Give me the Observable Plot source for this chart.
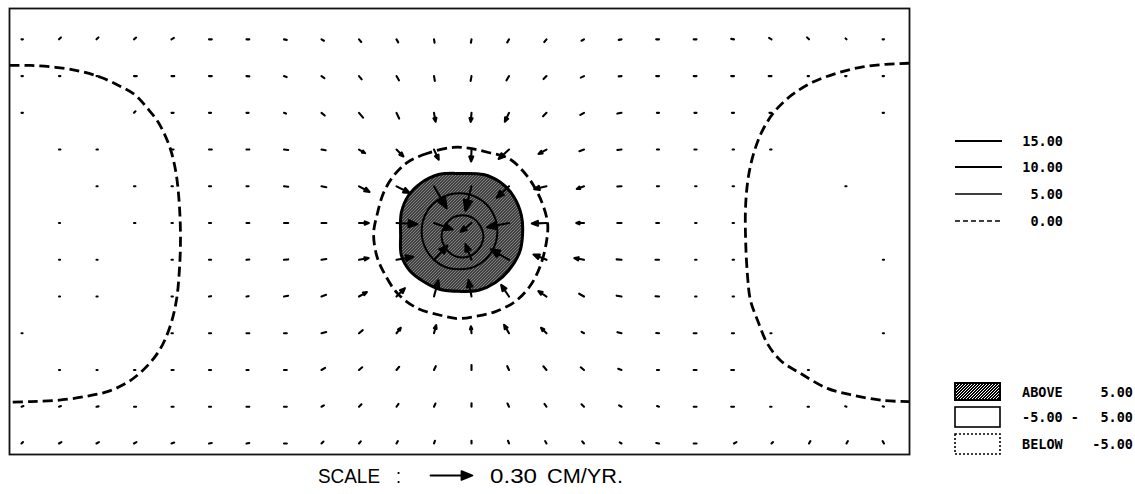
<!DOCTYPE html>
<html><head><meta charset="utf-8">
<script src="https://cdn.jsdelivr.net/npm/d3@7"></script>
<script src="https://cdn.jsdelivr.net/npm/@observablehq/plot@0.6"></script>
<style>
body{margin:0;background:#fff;}
#wrap{position:relative;width:1135px;height:494px;overflow:hidden;background:#fff;}
#chart{position:absolute;left:0;top:0;}
#scaleArrow{position:absolute;left:428px;top:466px;}
#overlay{position:absolute;left:0;top:0;pointer-events:none;}
.lg{font-family:"DejaVu Sans Mono",monospace;font-weight:bold;font-size:13.5px;fill:#000;}
.cap{font-family:"Liberation Sans",Arial,sans-serif;font-size:20px;fill:#000;}
</style></head><body>
<div id="wrap"><div id="chart"></div><div id="scaleArrow"></div></div>
<script>
// ---- grid (column / row indices of the velocity grid) ----
const gridX = [0,1,2,3,4,5,6,7,8,9,10,11,12,13,14,15,16,17,18,19,20,21,22,23];
const gridY = [0,1,2,3,4,5,6,7,8,9,10,11];

// ---- horizontal velocity, cm/yr, one row per grid row ----
const speedCmYr = [
  [0.01,0.02,0.02,0.02,0.02,0.02,0.02,0.02,0.02,0.025,0.025,0.025,0.025,0.025,0.025,0.02,0.02,0.02,0.02,0.02,0.02,0.02,0.01,0.01],
  [0.01,0.01,0.01,0.02,0.02,0.02,0.02,0.02,0.025,0.03,0.035,0.035,0.035,0.035,0.03,0.025,0.02,0.02,0.02,0.02,0.02,0.01,0.01,0.01],
  [0.01,0,0,0.015,0.015,0.015,0.015,0.015,0.03,0.045,0.045,0.065,0.065,0.07,0.035,0.03,0.03,0.015,0.015,0.015,0.015,0,0,0.01],
  [0,0.01,0.01,0,0.015,0.02,0.02,0.03,0.03,0.05,0.07,0.08,0.085,0.10,0.065,0.035,0.03,0.015,0.015,0.01,0.01,0,0,0],
  [0,0,0.008,0.01,0.01,0.015,0.015,0.03,0.035,0.085,0.105,0.18,0.18,0.12,0.09,0.055,0.03,0.015,0.01,0.01,0,0,0.008,0],
  [0,0.008,0,0.01,0.01,0.015,0.02,0.03,0.035,0.07,0.15,0.14,0.10,0.16,0.105,0.055,0.03,0.02,0.01,0.01,0,0,0,0],
  [0,0.008,0.008,0,0.01,0.015,0.02,0.03,0.035,0.07,0.12,0.14,0.12,0.15,0.10,0.07,0.035,0.025,0.01,0.01,0,0,0,0.008],
  [0,0.008,0.008,0,0.01,0.015,0.015,0.03,0.035,0.065,0.085,0.12,0.12,0.10,0.07,0.04,0.035,0.025,0.01,0.01,0,0,0,0],
  [0.008,0,0,0,0.01,0.015,0.02,0.02,0.035,0.035,0.05,0.06,0.05,0.07,0.055,0.02,0.03,0.02,0.02,0.015,0.008,0,0,0.008],
  [0,0.008,0.008,0.01,0.015,0.015,0.015,0.02,0.03,0.03,0.03,0.03,0.035,0.03,0.035,0.03,0.025,0.015,0.02,0.02,0,0.008,0,0],
  [0.015,0.015,0.015,0.015,0.015,0.015,0.02,0.02,0.02,0.025,0.025,0.025,0.025,0.025,0.025,0.025,0.02,0.015,0.02,0.02,0.01,0.01,0.01,0.01],
  [0.015,0.02,0.02,0.02,0.02,0.02,0.02,0.02,0.02,0.02,0.02,0.02,0.02,0.02,0.02,0.02,0.015,0.02,0.02,0.02,0.015,0.02,0.02,0.02]
];
// ---- direction of the velocity, degrees clockwise from up ----
const directionDeg = [
  [90,45,45,50,60,90,90,100,120,140,150,170,190,210,220,240,260,270,270,280,300,315,315,270],
  [90,90,90,90,90,90,95,110,125,140,150,170,190,210,225,245,265,270,270,270,270,270,270,270],
  [90,0,0,45,90,90,90,110,130,140,155,170,185,205,225,240,260,270,270,270,270,0,0,270],
  [90,90,90,90,90,90,90,95,100,120,135,155,182,228,241,250,265,270,270,270,270,0,0,0],
  [90,90,90,90,90,90,90,95,100,118,117,150,194,227,257,250,268,270,270,270,270,270,270,0],
  [90,90,90,90,90,90,90,90,90,90,93,109,231,259,268,270,270,270,270,270,270,270,270,0],
  [90,90,90,90,90,90,85,85,80,80,80,43,339,300,292,280,275,270,270,270,270,270,270,270],
  [90,90,90,90,90,80,80,80,70,60,45,15,350,326,304,300,280,275,270,270,270,270,270,270],
  [90,90,90,90,90,90,90,90,75,50,38,15,355,330,315,300,285,275,270,270,270,0,0,270],
  [90,90,90,90,90,90,90,90,60,50,40,25,0,335,320,310,290,270,270,270,0,270,0,0],
  [70,70,80,90,90,90,90,90,60,45,35,25,0,335,325,315,300,290,270,270,270,270,290,290],
  [45,60,60,60,70,80,80,90,45,40,30,20,0,340,330,320,300,280,270,60,45,30,30,330]
];

// ---- contour lines (grid units: column, row) ----
const contour0West = [[-0.32,0.71],[0.24,0.71],[0.91,0.76],[1.57,0.87],[2.11,1.03],[2.64,1.28],[3.04,1.52],[3.36,1.88],[3.63,2.23],[3.84,2.64],[4.00,3.08],[4.13,3.70],[4.21,4.52],[4.24,5.42],[4.21,6.29],[4.13,7.11],[3.97,7.79],[3.71,8.41],[3.36,8.88],[2.91,9.28],[2.37,9.56],[1.71,9.72],[0.91,9.83],[0.24,9.86],[-0.32,9.88]];
const contour0East = [[23.68,0.65],[23.04,0.68],[22.37,0.76],[21.71,0.93],[21.09,1.17],[20.56,1.50],[20.11,1.93],[19.79,2.42],[19.55,3.02],[19.39,3.70],[19.31,4.52],[19.31,5.47],[19.36,6.43],[19.44,7.11],[19.63,7.65],[19.89,8.28],[20.24,8.74],[20.77,9.09],[21.49,9.50],[22.19,9.69],[22.99,9.83],[23.68,9.86]];
const contour0Center = [[11.52,2.94],[10.83,3.10],[10.29,3.35],[9.89,3.76],[9.65,4.19],[9.49,4.74],[9.39,5.28],[9.47,5.88],[9.65,6.32],[10.03,6.92],[10.56,7.32],[11.17,7.51],[11.63,7.60],[12.11,7.54],[12.64,7.41],[13.17,7.13],[13.57,6.70],[13.84,6.15],[14.00,5.50],[14.03,5.01],[13.89,4.47],[13.65,3.97],[13.36,3.57],[12.99,3.24],[12.45,3.08],[11.97,2.97]];
const contour5 = [[11.71,3.65],[12.32,3.68],[12.77,3.89],[13.12,4.27],[13.33,4.79],[13.36,5.34],[13.28,5.80],[12.99,6.29],[12.64,6.62],[12.19,6.83],[11.71,6.86],[11.17,6.81],[10.72,6.59],[10.35,6.29],[10.13,5.88],[10.11,5.34],[10.13,4.71],[10.32,4.25],[10.64,3.92],[11.12,3.68]];
const contour10 = [[11.68,4.19],[12.19,4.33],[12.56,4.71],[12.69,5.23],[12.56,5.74],[12.19,6.13],[11.68,6.26],[11.17,6.13],[10.80,5.74],[10.67,5.23],[10.80,4.71],[11.17,4.33]];
const contour15 = [[11.76,4.79],[12.05,4.87],[12.24,5.09],[12.32,5.36],[12.24,5.64],[12.05,5.85],[11.76,5.94],[11.47,5.85],[11.28,5.64],[11.20,5.36],[11.28,5.09],[11.47,4.87]];

// ---- legend / scale labels ----
const lineLegend = [{label:"15.00"},{label:"10.00"},{label:"5.00"},{label:"0.00"}];
const fillLegend = [{label:"ABOVE", value:"5.00"},{label:"-5.00 -", value:"5.00"},{label:"BELOW", value:"-5.00"}];
const scaleValue = 0.30;
const scaleText = ["SCALE", ":", "0.30", "CM/YR."];

const vectors = [];
gridY.forEach((row, r) => gridX.forEach((col, c) => {
  if (speedCmYr[r][c] > 0) vectors.push({x: col, y: row, s: speedCmYr[r][c], d: directionDeg[r][c]});
}));

const arrowShape = {
  draw(ctx, l) {
    if (l < 7) { ctx.moveTo(0, 0); ctx.lineTo(0, -l); return; }
    const h = Math.min(l * 0.42, 11), w = h * 0.4;
    ctx.moveTo(0, 0); ctx.lineTo(0, -l + h * 0.7);
    ctx.moveTo(-w, -l + h); ctx.lineTo(0, -l); ctx.lineTo(w, -l + h); ctx.closePath();
  }
};
const lengthScale = {domain: [0, 0.3], range: [0, 42]};
const pt = {x: d => d[0], y: d => d[1]};

function build(shape) {
  return Plot.plot({
    width: 1135, height: 460,
    marginLeft: 9, marginRight: 226, marginTop: 8, marginBottom: 6,
    x: {domain: [-0.32, 23.68], axis: null},
    y: {domain: [-0.84, 11.30], reverse: true, axis: null},
    length: lengthScale,
    marks: [
      Plot.line(contour5, {...pt, curve: "catmull-rom-closed", fill: "url(#hatch)", stroke: "#000", strokeWidth: 3}),
      Plot.line(contour10, {...pt, curve: "catmull-rom-closed", stroke: "#000", strokeWidth: 2}),
      Plot.line(contour15, {...pt, curve: "catmull-rom-closed", stroke: "#000", strokeWidth: 2}),
      Plot.line(contour0Center, {...pt, curve: "catmull-rom-closed", stroke: "#000", strokeWidth: 2.8, strokeDasharray: "10,5", strokeLinecap: "butt"}),
      Plot.line(contour0West, {...pt, curve: "catmull-rom", clip: true, stroke: "#000", strokeWidth: 2.8, strokeDasharray: "10,5", strokeLinecap: "butt"}),
      Plot.line(contour0East, {...pt, curve: "catmull-rom", clip: true, stroke: "#000", strokeWidth: 2.8, strokeDasharray: "10,5", strokeLinecap: "butt"}),
      Plot.vector(vectors, {x: "x", y: "y", length: "s", rotate: "d", anchor: "start", shape, stroke: "#000", fill: "#000", strokeWidth: 2.1}),
      Plot.frame({stroke: "#111", strokeWidth: 1.8})
    ]
  });
}
let chart;
try { chart = build(arrowShape); } catch (e) { chart = build("arrow"); }

const defs = d3.select(chart).insert("defs", ":first-child");
const pat = defs.append("pattern").attr("id", "hatch").attr("patternUnits", "userSpaceOnUse").attr("width", 3).attr("height", 3);
pat.append("rect").attr("width", 3).attr("height", 3).attr("fill", "#000");
pat.append("rect").attr("x", 0).attr("y", 2).attr("width", 1).attr("height", 1).attr("fill", "#fff");
pat.append("rect").attr("x", 1).attr("y", 1).attr("width", 1).attr("height", 1).attr("fill", "#fff");
pat.append("rect").attr("x", 2).attr("y", 0).attr("width", 1).attr("height", 1).attr("fill", "#fff");
pat.selectAll("rect").attr("shape-rendering", "crispEdges");
document.getElementById("chart").appendChild(chart);

// scale arrow drawn with the same length scale
let arrowPlot;
const arrowOpts = (shape) => Plot.plot({
  width: 48, height: 18, margin: 0, marginLeft: 2,
  length: lengthScale,
  marks: [Plot.vector([scaleValue], {length: d => d, rotate: 90, anchor: "start", frameAnchor: "left", shape, stroke: "#000", fill: "#000", strokeWidth: 1.8})]
});
try { arrowPlot = arrowOpts(arrowShape); } catch (e) { arrowPlot = arrowOpts("arrow"); }
document.getElementById("scaleArrow").appendChild(arrowPlot);

// legend + caption overlay
const ov = d3.select("#wrap").append("svg").attr("id", "overlay").attr("width", 1135).attr("height", 494);
const lineY = [141, 167, 194, 221];
const lineW = [2.2, 2, 1.6, 1.6];
lineLegend.forEach((d, i) => {
  ov.append("line").attr("x1", 955).attr("x2", 1002).attr("y1", lineY[i]).attr("y2", lineY[i])
    .attr("stroke", "#000").attr("stroke-width", lineW[i]).attr("stroke-dasharray", i === 3 ? "5,3" : null);
  ov.append("text").attr("class", "lg").attr("x", 1063).attr("y", lineY[i] + 5).attr("text-anchor", "end").text(d.label);
});
const boxY = [383, 407, 434], boxH = [17, 20, 20];
fillLegend.forEach((d, i) => {
  ov.append("rect").attr("x", 955).attr("y", boxY[i]).attr("width", 45).attr("height", boxH[i])
    .attr("fill", i === 0 ? "url(#hatch)" : "#fff").attr("stroke", "#000")
    .attr("stroke-width", i === 0 ? 2 : 1.6).attr("stroke-dasharray", i === 2 ? "2,2" : null);
  const cy = boxY[i] + boxH[i] / 2 + 5;
  ov.append("text").attr("class", "lg").attr("x", 1022).attr("y", cy).text(d.label);
  ov.append("text").attr("class", "lg").attr("x", 1133).attr("y", cy).attr("text-anchor", "end").text(d.value);
});
const capX = [318, 396, 490, 547], capLen = [62, 5, 47, 76];
scaleText.forEach((t, i) => {
  ov.append("text").attr("class", "cap").attr("x", capX[i]).attr("y", 483)
    .attr("textLength", capLen[i]).attr("lengthAdjust", "spacingAndGlyphs").text(t);
});
</script>
</body></html>
